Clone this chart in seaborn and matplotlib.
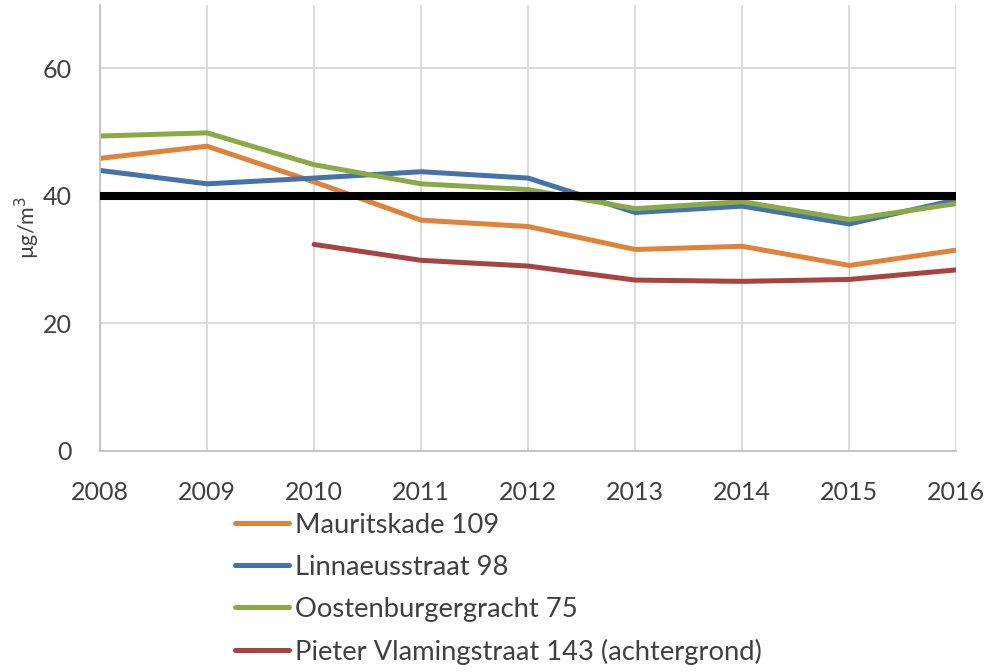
import pandas as pd
import seaborn as sns
import numpy as np
import matplotlib.pyplot as plt

# jaargemiddelde NO2 per meetpunt
years = [2008, 2009, 2010, 2011, 2012, 2013, 2014, 2015, 2016]
mauritskade = [45.9, 47.8, 42.2, 36.2, 35.2, 31.6, 32.1, 29.1, 31.5]
linnaeusstraat = [44.0, 41.9, 42.8, 43.8, 42.8, 37.4, 38.4, 35.6, 39.4]
oostenburgergracht = [49.4, 49.9, 44.9, 41.9, 41.0, 38.0, 39.1, 36.3, 38.8]
pieter_vlaming = [np.nan, np.nan, 32.4, 29.9, 29.0, 26.8, 26.6, 26.9, 28.4]
limit = [40] * len(years)

labels = ['Mauritskade 109', 'Linnaeusstraat 98', 'Oostenburgergracht 75',
          'Pieter Vlamingstraat 143 (achtergrond)']
colors = ['#E0823A', '#4572A9', '#8BAA46', '#A94343']

df = pd.DataFrame({'jaar': years * 4,
                   'waarde': mauritskade + linnaeusstraat + oostenburgergracht + pieter_vlaming,
                   'meetpunt': [l for l in labels for _ in years]})

sns.set_style('white')
plt.rcParams['font.family'] = ['Lato', 'DejaVu Sans']

fig = plt.figure(figsize=(9.9, 6.72), dpi=100)
ax = fig.add_axes([0.101, 0.329, 0.865, 0.664])

sns.lineplot(data=df, x='jaar', y='waarde', hue='meetpunt', hue_order=labels,
             palette=colors, linewidth=3.6, ax=ax, legend=False)
sns.lineplot(x=years, y=limit, color='black', linewidth=5.8, ax=ax, zorder=5)

ax.set_xlim(2008, 2016)
ax.set_ylim(0, 70)
ax.set_xticks(years)
ax.set_yticks([0, 20, 40, 60])
ax.grid(True, color='#D9D9D9', linewidth=1.3)
ax.set_axisbelow(True)
sns.despine(ax=ax, top=True, right=True)
ax.spines['left'].set_color('#BFBFBF')
ax.spines['bottom'].set_color('#BFBFBF')
ax.spines['left'].set_linewidth(1.3)
ax.spines['bottom'].set_linewidth(1.3)
ax.tick_params(axis='x', length=5, color='#D9D9D9', width=1.3, pad=17,
               labelsize=18, labelcolor='#404040')
ax.tick_params(axis='y', length=0, pad=20, labelsize=18, labelcolor='#404040')

ax.set_xlabel('')
ax.set_ylabel('µg/m$^3$', fontsize=15.5, color='#404040')
ax.yaxis.set_label_coords(-0.068, 0.5)

handles = [plt.Line2D([], [], color=c, linewidth=3.6, solid_capstyle='round') for c in colors]
fig.legend(handles, labels, loc='upper left', bbox_to_anchor=(0.237, 0.237),
           frameon=False, fontsize=19.7, labelcolor='#404040', handlelength=1.97,
           handletextpad=0.22, labelspacing=0.62, borderpad=0, borderaxespad=0)

plt.savefig('out.png', dpi=100)
